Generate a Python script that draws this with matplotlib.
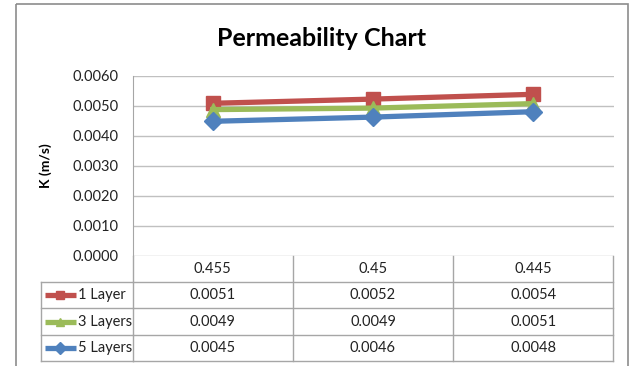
import matplotlib.pyplot as plt
from matplotlib.transforms import blended_transform_factory

# Data
porosity = ["0.455", "0.45", "0.445"]
series_names = ["1 Layer", "3 Layers", "5 Layers"]
k_1_layer = [0.00508, 0.00522, 0.00538]
k_3_layers = [0.00487, 0.00492, 0.00507]
k_5_layers = [0.00448, 0.00462, 0.00480]
y_ticks = [0.0, 0.001, 0.002, 0.003, 0.004, 0.005, 0.006]

series = [k_1_layer, k_3_layers, k_5_layers]
colors = ["#C0504D", "#9BBB59", "#4F81BD"]
markers = ["s", "^", "D"]
msizes = [10, 9.5, 9]

plt.rcParams['font.family'] = ['Lato', 'DejaVu Sans']

W, H = 630, 366
fig = plt.figure(figsize=(W / 100, H / 100), dpi=100)


def box(x0, y0, x1, y1):
    return [x0 / W, 1 - y1 / H, (x1 - x0) / W, (y1 - y0) / H]


# plot area in pixels
px0, py0, px1, py1 = 132.5, 75.7, 613.5, 255.7
# table rows (pixel y)
row_edges = [py1, 282.3, 308.3, 335.0, 360.7]
leg_left = 41
lc = "#A6A6A6"

# overlay in pixel coordinates, for the frame and table
ov = fig.add_axes([0, 0, 1, 1], zorder=0)
ov.set_xlim(0, W)
ov.set_ylim(H, 0)
ov.axis("off")
ov.add_patch(plt.Rectangle((16, 4), 612, 370, fill=False, ec="#8C8C8C", lw=1.2))

ax = fig.add_axes(box(px0, py0, px1, py1), zorder=1)
ax.set_facecolor("none")
ax.set_xlim(-0.5, len(porosity) - 0.5)
ax.set_ylim(0, 0.006)
for s in ax.spines.values():
    s.set_visible(False)
ax.spines["left"].set_visible(True)
ax.spines["left"].set_color(lc)
ax.set_yticks(y_ticks)
ax.set_yticklabels([f"{v:.4f}" for v in y_ticks])
ax.tick_params(axis="y", length=0, pad=10, labelsize=10.5, colors="#222222")
ax.set_xticks([])
ax.yaxis.grid(True, color="#C0C0C0", lw=1)
ax.set_axisbelow(True)

x = list(range(len(porosity)))
for vals, c, m, ms in zip(series, colors, markers, msizes):
    ax.plot(x, vals, color=c, lw=3.8, marker=m, ms=ms, clip_on=False, zorder=3)

ax.set_ylabel("K (m/s)", fontsize=10, fontweight="bold", labelpad=15)
fig.text(0.5 * (215 + 428) / W, 1 - 38 / H, "Permeability Chart",
         fontsize=18, fontweight="bold", ha="center", va="center")

# data table
tr = blended_transform_factory(ax.transData, ov.transData)
xl, xr = -0.5, len(porosity) - 0.5
for i, y in enumerate(row_edges):
    if i == 0:
        continue
    ov.plot([leg_left, px0], [y, y], color=lc, lw=1)
    ov.plot([xl, xr], [y, y], color=lc, lw=1, transform=tr)
for b in [xl + k for k in range(len(porosity) + 1)]:
    ov.plot([b, b], [row_edges[0], row_edges[-1]], color=lc, lw=1, transform=tr)
ov.plot([leg_left, leg_left], [row_edges[1], row_edges[-1]], color=lc, lw=1)

yc = [(row_edges[i] + row_edges[i + 1]) / 2 for i in range(len(row_edges) - 1)]
for j, p in enumerate(porosity):
    ov.text(j, yc[0], p, transform=tr, ha="center", va="center", fontsize=10.5, color="#222222")
for r, (name, vals, c, m) in enumerate(zip(series_names, series, colors, markers)):
    y = yc[r + 1]
    ov.plot([45, 76], [y, y], color=c, lw=3.8, solid_capstyle="butt")
    ov.plot([60], [y], color=c, marker=m, ms=6)
    ov.text(78.5, y, name, ha="left", va="center", fontsize=10.5, color="#222222")
    for j, v in enumerate(vals):
        ov.text(j, y, f"{v:.4f}", transform=tr, ha="center", va="center", fontsize=10.5, color="#222222")

fig.savefig("out.png", dpi=100)
